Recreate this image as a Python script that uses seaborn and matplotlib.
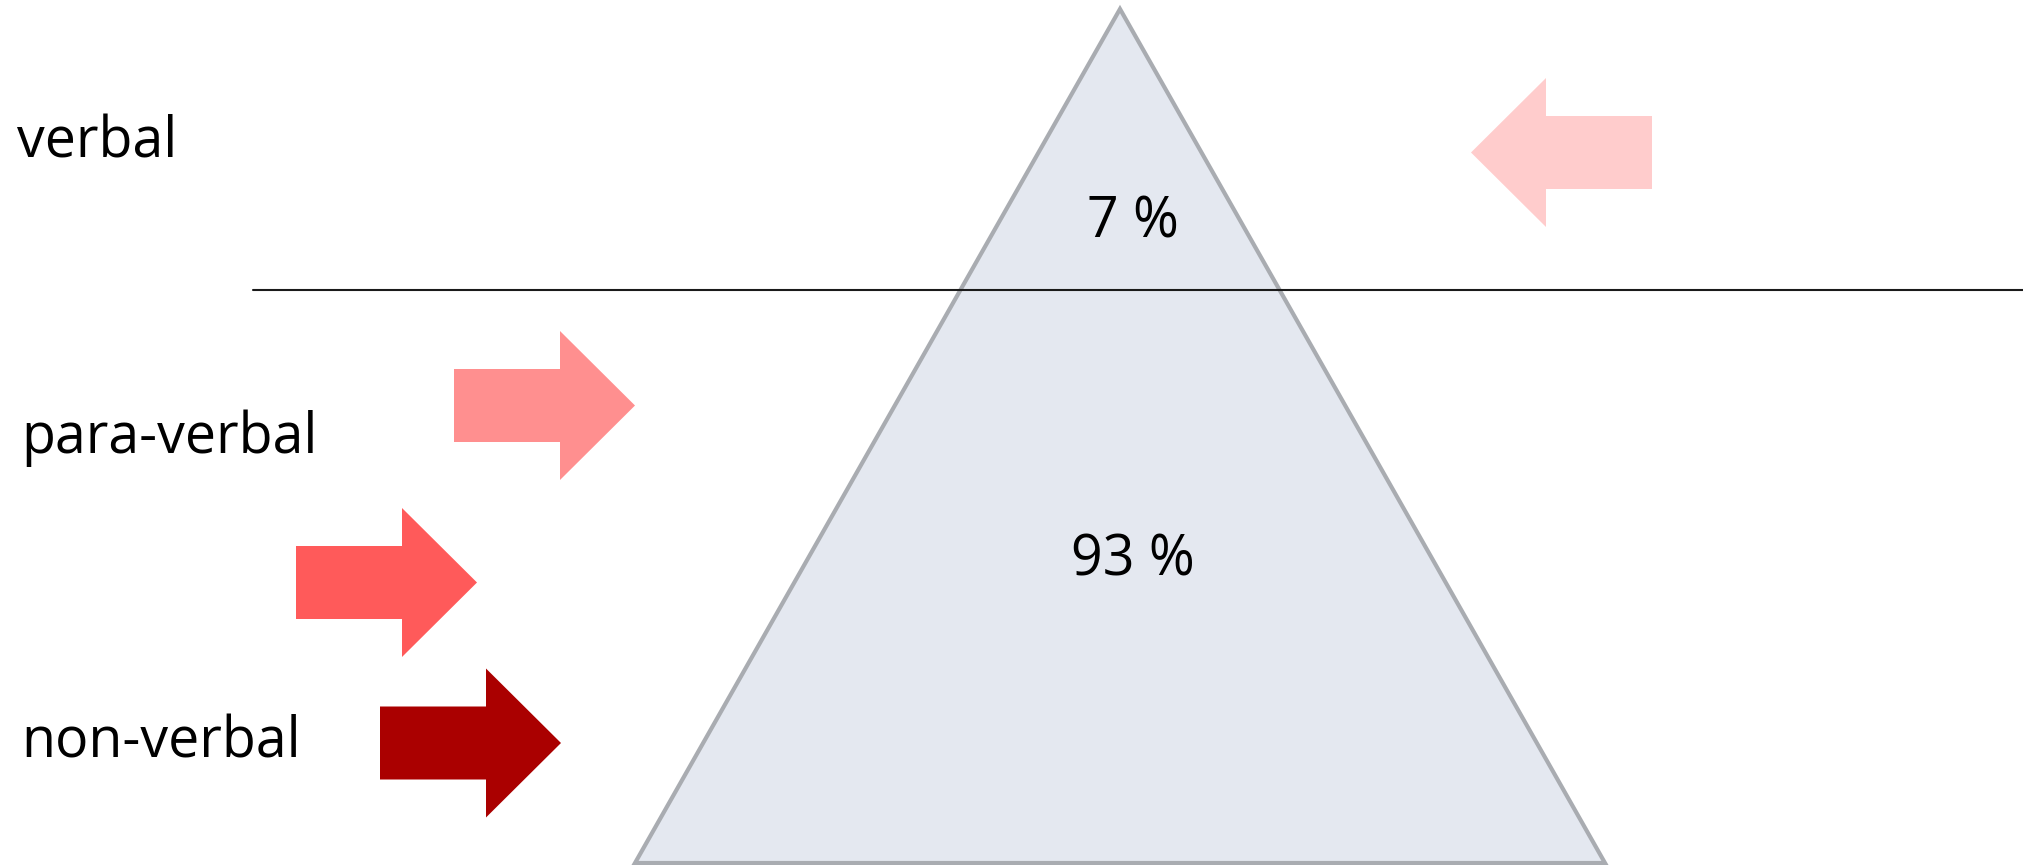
import matplotlib
matplotlib.use("Agg")
import matplotlib.pyplot as plt
from matplotlib.patches import Polygon, FancyArrow
import seaborn as sns

# ---- data ----
levels = ["verbal", "para-verbal", "non-verbal"]
shares = [7, 93]                       # percent above / below the waterline
arrow_colors = ["#FFCCCC", "#FF8F8F", "#FF5A5A", "#AA0000"]
arrow_directions = [-1, 1, 1, 1]       # -1 = points left, 1 = points right

# ---- layout (pixel space of a 2024 x 865 canvas) ----
W, H = 2024, 865
label_xs = [17, 21, 21]
label_baselines = [158, 453, 758]
share_x = 1133
share_baselines = [238, 576]
apex = (1120, 9)
base_y = 863
base_half = 485
waterline_y = 290
waterline_x0 = 253
arrow_tails = [(1652, 152.5), (454, 405.5), (296, 582.5), (380, 743)]
arrow_len, shaft_w, head_w, head_len = 181, 73, 149, 75

sns.set_theme(style="white")
plt.rcParams["font.family"] = ["Open Sans", "DejaVu Sans"]

fig = plt.figure(figsize=(W / 100, H / 100), dpi=100)
ax = fig.add_axes([0, 0, 1, 1])
ax.set_xlim(0, W)
ax.set_ylim(H, 0)
ax.set_axis_off()

# iceberg triangle
tri = Polygon([apex, (apex[0] - base_half, base_y), (apex[0] + base_half, base_y)],
              closed=True, facecolor="#E4E8F0", edgecolor="#A9ACB1",
              linewidth=3.0, joinstyle="miter", zorder=1)
ax.add_patch(tri)

# waterline
sns.lineplot(x=[waterline_x0, W], y=[waterline_y, waterline_y], ax=ax,
             color="#1a1a1a", linewidth=1.5, zorder=2)

# arrows
for (tx, ty), col, d in zip(arrow_tails, arrow_colors, arrow_directions):
    ax.add_patch(FancyArrow(tx, ty, d * arrow_len, 0, width=shaft_w,
                            head_width=head_w, head_length=head_len,
                            length_includes_head=True, color=col,
                            linewidth=0, zorder=3))

# labels
fs = 40
for lab, xb, yb in zip(levels, label_xs, label_baselines):
    ax.text(xb, yb, lab, fontsize=fs, ha="left", va="baseline",
            color="black", zorder=4)
for s, yb in zip(shares, share_baselines):
    ax.text(share_x, yb, f"{s} %", fontsize=fs, ha="center", va="baseline",
            color="black", zorder=4)

fig.savefig("out.png", dpi=100, facecolor="white")
